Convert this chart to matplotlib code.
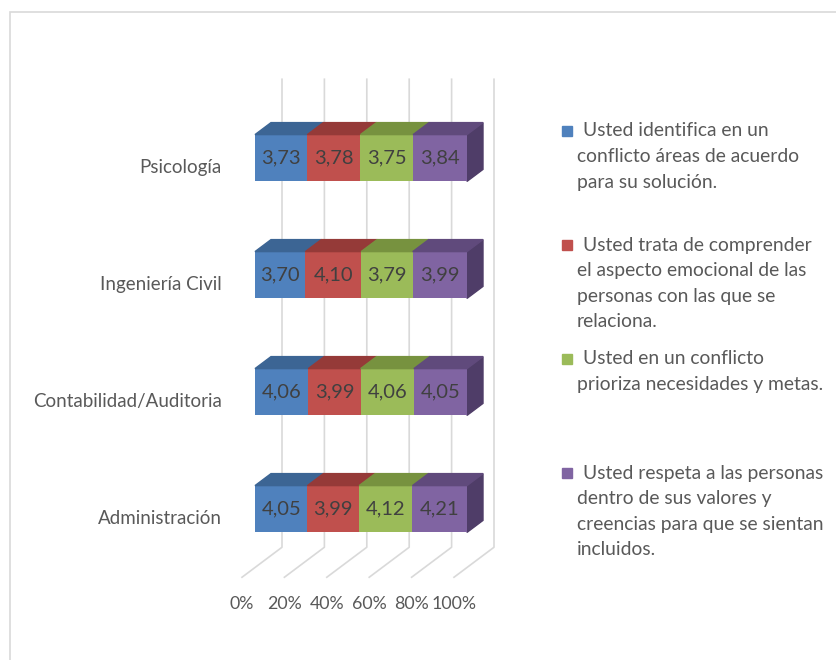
import matplotlib.pyplot as plt
from matplotlib.patches import Polygon, Rectangle

plt.rcParams["font.family"] = ["Lato", "DejaVu Sans"]

carreras = ["Administración", "Contabilidad/Auditoria", "Ingeniería Civil", "Psicología"]
identifica = [4.05, 4.06, 3.70, 3.73]
comprende = [3.99, 3.99, 4.10, 3.78]
prioriza = [4.12, 4.06, 3.79, 3.75]
respeta = [4.21, 4.05, 3.99, 3.84]
series = [identifica, comprende, prioriza, respeta]
pct_ticks = [0, 0.2, 0.4, 0.6, 0.8, 1.0]
pct_labels = ["0%", "20%", "40%", "60%", "80%", "100%"]
leyenda = [
    ["Usted identifica en un", "conflicto áreas de acuerdo", "para su solución."],
    ["Usted trata de comprender", "el aspecto emocional de las",
     "personas con las que se", "relaciona."],
    ["Usted en un conflicto", "prioriza necesidades y metas."],
    ["Usted respeta a las personas", "dentro de sus valores y",
     "creencias para que se sientan", "incluidos."],
]

front = ["#4f81bd", "#c0504d", "#9bbb59", "#8064a2"]
top = ["#3c6594", "#953a38", "#77923f", "#604a7c"]
side = "#4f3d68"
grid = "#d9d9d9"
txt = "#595959"

W, H = 837, 660
fig = plt.figure(figsize=(W / 100, H / 100), dpi=100)

# axes placed so that 0..1 on x lands on the bar front faces
axl, axr, axt, axb = 200, 530, 40, 630
ax = fig.add_axes([axl / W, 1 - axb / H, (axr - axl) / W, (axb - axt) / H])
px_x, px_y = 212.0, 117.0
x0p, y0p = 255.0, 509.0
ax.set_xlim((axl - x0p) / px_x, (axr - x0p) / px_x)
ax.set_ylim((y0p - axb) / px_y, (y0p - axt) / px_y)
ax.axis("off")

# oblique depth direction, one unit = full floor depth
ddx, ddy = 40 / px_x, 30 / px_y
d_front, d_back, bar_d = -0.325, 0.675, 0.4
y_floor, y_top = -0.5, 3.5


def proj(x, y, d):
    return x + d * ddx, y + d * ddy


for t in pct_ticks:
    xb, yb = proj(t, y_floor, d_back)
    xt, yt = proj(t, y_top, d_back)
    xf, yf = proj(t, y_floor, d_front)
    ax.plot([xf, xb, xt], [yf, yb, yt], color=grid, lw=1.2, zorder=1)
for t, lab in zip(pct_ticks, pct_labels):
    xf, yf = proj(t, y_floor, d_front)
    ax.text(xf, yf - 0.23, lab, ha="center", va="center", fontsize=12.8, color=txt)

h = 0.4
for i, cat in enumerate(carreras):
    total = sum(s[i] for s in series)
    left = 0.0
    for k, s in enumerate(series):
        w = s[i] / total
        ax.barh(i, w, left=left, height=h, color=front[k], zorder=3)
        yt = i + h / 2
        pts = [proj(left, yt, 0), proj(left + w, yt, 0),
               proj(left + w, yt, bar_d), proj(left, yt, bar_d)]
        ax.add_patch(Polygon(pts, closed=True, color=top[k], zorder=3))
        ax.text(left + w / 2, i, f"{s[i]:.2f}".replace(".", ","),
                ha="center", va="center", fontsize=14.5, color="#404040", zorder=4)
        left += w
    pts = [proj(1, i - h / 2, 0), proj(1, i + h / 2, 0),
           proj(1, i + h / 2, bar_d), proj(1, i - h / 2, bar_d)]
    ax.add_patch(Polygon(pts, closed=True, color=side, zorder=2))
    ax.text((222 - x0p) / px_x, i - 0.08, cat, ha="right", va="center",
            fontsize=13.5, color=txt)

# legend on the right, equal slots like the original
slot, line_h = 114, 25.6
for k, lines in enumerate(leyenda):
    y1 = 131 + k * slot
    fig.patches.append(Rectangle((562 / W, 1 - (y1 + 5) / H), 10 / W, 10 / H,
                                 color=front[k], transform=fig.transFigure))
    for j, ln in enumerate(lines):
        xx = 583 if j == 0 else 577
        fig.text(xx / W, 1 - (y1 + j * line_h) / H, ln, ha="left", va="center",
                 fontsize=13.9, color=txt)

# outer chart border
fig.patches.append(Rectangle((10 / W, -0.1), 1.2, 1 - 12 / H + 0.1, fill=False,
                             edgecolor="#d9d9d9", lw=1.2, transform=fig.transFigure))

fig.savefig("out.png", dpi=100)
